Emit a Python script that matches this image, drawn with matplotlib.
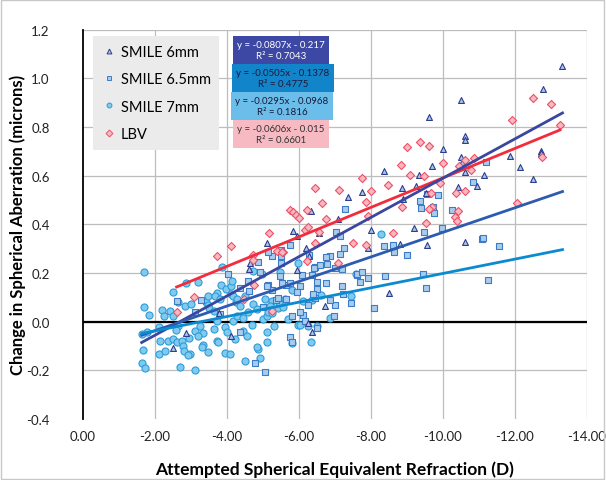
import numpy as np
import matplotlib
matplotlib.use("Agg")
import matplotlib.pyplot as plt
from matplotlib.lines import Line2D
from matplotlib.patches import Rectangle

plt.rcParams['font.family'] = ['Lato', 'DejaVu Sans']

# SMILE 6mm (triangles)
x6 = [-13.31, -12.77, -10.49, -9.62, -10.61, -10.61, -10.01, -10.50, -10.52, -10.61,
      -11.15, -11.86, -12.72, -12.72, -12.14, -12.49, -10.95, -10.41, -9.69, -9.53,
      -9.56, -10.61, -8.36, -9.34, -9.25, -8.87, -7.74, -7.37, -8.90, -6.33,
      -7.09, -5.84, -7.99, -9.19, -6.56, -5.12, -6.19, -6.29, -4.64, -8.50,
      -6.72, -6.26, -6.35, -4.62, -2.86, -2.49, -3.79, -4.10, -5.94, -7.93,
      -8.81, -5.94]
y6 = [1.052, 0.956, 0.911, 0.840, 0.762, 0.748, 0.710, 0.676, 0.655, 0.614,
      0.603, 0.682, 0.703, 0.693, 0.635, 0.587, 0.559, 0.555, 0.641, 0.529,
      0.315, 0.326, 0.618, 0.604, 0.559, 0.548, 0.534, 0.511, 0.504, 0.456,
      0.422, 0.374, 0.378, 0.384, 0.365, 0.323, 0.302, 0.271, 0.241, 0.118,
      0.066, -0.005, -0.041, 0.217, -0.046, -0.109, 0.035, -0.058, 0.351, 0.302,
      0.319, 0.214]

# SMILE 6.5mm (squares)
x65 = [-11.19, -10.84, -9.87, -9.73, -9.75, -10.25, -9.47, -9.96, -11.08, -11.12,
       -11.56, -9.44, -9.53, -11.25, -9.36, -9.38, -9.56, -7.28, -7.03, -7.14,
       -7.25, -6.86, -7.14, -6.75, -6.79, -7.00, -6.44, -6.58, -5.75, -5.49,
       -5.49, -5.24, -5.15, -4.87, -6.08, -6.35, -6.49, -6.49, -6.75, -6.03,
       -5.94, -5.64, -5.52, -5.75, -7.69, -7.93, -7.62, -8.39, -7.00, -7.44,
       -8.08, -6.86, -6.44, -6.12, -6.17, -6.49, -5.75, -5.80, -5.36, -5.01,
       -4.78, -5.06, -6.03, -6.28, -6.43, -7.19, -7.60, -7.75, -8.36, -8.60,
       -8.63, -8.99, -7.19, -6.40, -7.23, -6.24, -5.63, -5.43, -5.81, -6.98,
       -5.15, -5.24, -5.47, -4.59, -4.61, -4.02, -4.36, -3.28, -3.11, -2.60,
       -3.81, -4.36, -4.92, -5.10, -5.50]
y65 = [0.655, 0.575, 0.521, 0.473, 0.446, 0.460, 0.370, 0.385, 0.340, 0.343,
       0.312, 0.196, 0.137, 0.173, 0.497, 0.466, 0.525, 0.463, 0.370, 0.351,
       0.302, 0.271, 0.278, 0.265, 0.237, 0.219, 0.224, 0.233, 0.315, 0.269,
       0.241, 0.269, 0.285, 0.247, 0.192, 0.192, 0.162, 0.134, 0.159, 0.148,
       0.123, 0.151, 0.159, 0.159, 0.162, 0.178, 0.192, 0.189, 0.069, 0.077,
       0.055, 0.090, 0.096, 0.028, 0.004, -0.027, -0.064, -0.085, 0.088, 0.059,
       -0.170, -0.208, 0.039, 0.274, 0.219, 0.217, 0.196, 0.203, 0.312, 0.315,
       0.285, 0.274, 0.146, 0.114, 0.114, 0.069, 0.093, 0.096, 0.022, 0.025,
       0.151, 0.132, 0.187, 0.169, 0.127, 0.196, 0.137, 0.090, 0.041, 0.086,
       0.032, -0.044, 0.203, 0.148, 0.296]

# SMILE 7mm (circles)
x7 = [-1.69, -1.69, -1.84, -1.66, -1.63, -1.72, -1.77, -1.63, -2.19, -2.25,
      -2.12, -2.14, -2.12, -2.28, -2.37, -2.51, -2.60, -2.74, -2.77, -2.81,
      -2.69, -3.11, -2.97, -2.51, -2.86, -3.20, -2.42, -2.51, -2.65, -2.83,
      -2.99, -2.65, -2.58, -3.11, -3.25, -3.34, -3.33, -3.20, -2.95, -3.42,
      -3.48, -3.51, -3.71, -3.83, -3.64, -3.71, -3.64, -3.94, -3.99, -3.71,
      -3.76, -3.94, -4.08, -4.22, -4.16, -4.27, -4.44, -4.45, -4.55, -4.50,
      -4.87, -4.25, -4.36, -4.10, -4.18, -4.50, -4.73, -4.59, -4.83, -3.85,
      -3.96, -4.11, -4.13, -4.27, -3.48, -3.67, -3.81, -4.73, -4.96, -3.31,
      -2.91, -3.46, -4.69, -4.99, -5.10, -5.15, -5.10, -4.83, -4.92, -5.06,
      -5.24, -5.19, -5.43, -5.56, -5.44, -5.61, -5.24, -5.31, -5.69, -5.96,
      -6.03, -6.24, -6.49, -5.80, -6.33, -5.10, -6.86, -5.47, -5.81, -5.96,
      -7.44, -8.28, -6.61, -6.12, -6.35, -7.58]
y7 = [0.206, 0.059, 0.028, -0.115, -0.171, -0.192, -0.041, -0.051, 0.049, 0.025,
      -0.023, -0.078, -0.133, -0.119, -0.078, -0.071, -0.085, -0.078, -0.099, -0.119,
      -0.187, -0.197, -0.133, 0.121, 0.159, 0.164, 0.045, 0.025, 0.080, 0.066,
      0.073, -0.016, -0.034, -0.037, -0.016, -0.046, -0.096, -0.058, -0.068, 0.080,
      0.069, 0.055, 0.118, 0.151, 0.045, 0.004, -0.030, -0.023, -0.044, -0.078,
      -0.085, -0.129, -0.133, -0.071, 0.004, 0.025, 0.014, -0.037, -0.058, -0.160,
      -0.112, 0.082, 0.066, 0.114, 0.107, 0.107, 0.073, 0.039, 0.052, 0.226,
      0.134, 0.148, 0.169, 0.093, 0.107, 0.104, 0.093, 0.210, 0.196, -0.105,
      -0.137, -0.126, -0.014, 0.011, 0.025, 0.039, -0.044, -0.105, -0.150, 0.093,
      0.086, 0.063, 0.055, 0.059, 0.082, 0.093, 0.036, -0.016, 0.011, -0.014,
      -0.014, -0.019, -0.019, -0.088, -0.085, -0.082, 0.014, 0.203, 0.132, 0.241,
      0.104, 0.360, 0.110, 0.086, 0.090, 0.196]

# LBV (diamonds)
xl = [-2.60, -3.08, -3.73, -4.10, -4.73, -4.73, -4.75, -4.46, -6.44, -7.12,
      -7.74, -7.99, -7.86, -6.63, -5.75, -5.84, -5.92, -6.00, -6.21, -6.75,
      -6.17, -6.26, -6.56, -6.44, -7.49, -7.86, -8.62, -7.08, -6.21, -5.17,
      -5.56, -5.25, -8.83, -8.99, -9.36, -9.62, -9.08, -8.48, -8.85, -9.69,
      -9.53, -9.99, -7.93, -12.49, -13.00, -11.91, -13.25, -12.74, -12.05, -9.48,
      -10.61, -10.86, -10.77, -10.45, -9.92, -9.66, -10.61, -10.36, -10.43, -9.62,
      -10.33, -10.38, -5.38, -5.52]
yl = [0.041, 0.103, 0.269, 0.312, 0.274, 0.255, 0.151, 0.093, 0.548, 0.543,
      0.589, 0.538, 0.493, 0.487, 0.460, 0.450, 0.439, 0.427, 0.459, 0.422,
      0.378, 0.388, 0.367, 0.323, 0.323, 0.315, 0.365, 0.241, 0.251, 0.363,
      0.288, 0.044, 0.644, 0.717, 0.737, 0.723, 0.603, 0.562, 0.470, 0.470,
      0.406, 0.652, 0.433, 0.918, 0.894, 0.829, 0.808, 0.678, 0.487, 0.598,
      0.666, 0.672, 0.624, 0.641, 0.570, 0.529, 0.538, 0.528, 0.456, 0.463,
      0.429, 0.413, 0.292, 0.285]

labels = ["SMILE 6mm", "SMILE 6.5mm", "SMILE 7mm", "LBV"]
slopes = [-0.0807, -0.0505, -0.0295, -0.0606]
intercepts = [-0.217, -0.1378, -0.0968, -0.015]
r2 = [0.7043, 0.4775, 0.1816, 0.6601]
fit_start = [-1.63, -1.63, -1.63, -2.60]
fit_end = [-13.32, -13.32, -13.32, -13.25]

markers = ['^', 's', 'o', 'D']
sizes = [18, 24, 26, 17]
faces = ['#A9C8EA', '#A8CCEE', '#7FCAEE', '#F8B8C0']
edges = ['#2E3C8E', '#3C7CC6', '#2E9CD8', '#EE5068']
line_cols = ['#3A469F', '#2C5BAF', '#0C8AD0', '#F22C3C']
box_cols = ['#3D48A4', '#1285CA', '#6BBDEA', '#F7BAC2']
box_txt = ['white', '#1A1A3A', '#1A1A3A', '#333333']

fig = plt.figure(figsize=(6.06, 4.81), dpi=100)
ax = fig.add_axes([83/606, 1 - 420/481, 504/606, (420 - 30.7)/481])

xs = [x6, x65, x7, xl]
ys = [y6, y65, y7, yl]
for i in [2, 1, 0, 3]:
    ax.scatter(xs[i], ys[i], marker=markers[i], s=sizes[i], facecolor=faces[i],
               edgecolor=edges[i], linewidth=0.8, zorder=3)

for i in [3, 0, 1, 2]:
    fx = np.array([fit_start[i], fit_end[i]])
    ax.plot(fx, slopes[i] * fx + intercepts[i], color=line_cols[i], lw=2.0, zorder=4)

ax.set_xlim(0, -14)
ax.set_ylim(-0.4, 1.2)
xt = np.arange(0, -15, -2)
ax.set_xticks(xt)
ax.set_xticklabels([f"{v:.2f}" for v in xt])
yt = np.round(np.arange(-0.4, 1.21, 0.2), 1)
ax.set_yticks(yt)
ax.set_yticklabels([f"{v:.1f}" for v in yt])
ax.tick_params(axis='x', length=0, labelsize=9.5, pad=8, colors='#222222')
ax.tick_params(axis='y', length=0, labelsize=9.5, pad=24, colors='#222222')
for v in xt[1:]:
    ax.axvline(v, color='#BDBDBD', lw=0.9, zorder=0)
for v in yt[1:]:
    ax.axhline(v, color='#BDBDBD', lw=0.9, zorder=0)
ax.axhline(0, color='black', lw=1.6, zorder=2)
for s in ['top', 'right', 'bottom']:
    ax.spines[s].set_visible(False)
ax.spines['left'].set_color('black')
ax.spines['left'].set_linewidth(1.3)

ax.set_xlabel("Attempted Spherical Equivalent Refraction (D)", fontsize=12.5,
              fontweight='bold', labelpad=13)
ax.set_ylabel("Change in Spherical Aberration (microns)", fontsize=12,
              fontweight='bold', labelpad=0)

handles = [Line2D([], [], marker=markers[i], ls='', markersize=3.5,
                  markerfacecolor=faces[i], markeredgecolor=edges[i],
                  markeredgewidth=0.7) for i in range(4)]
leg = ax.legend(handles, labels, loc='upper left',
                bbox_to_anchor=(10/504, (420 - 37)/389.3),
                fontsize=10.5, frameon=True, fancybox=False, handletextpad=0.3,
                labelspacing=0.92, borderpad=0.6, handlelength=1.0, borderaxespad=0)
leg.get_frame().set_facecolor('#EBEBEB')
leg.get_frame().set_edgecolor('none')
leg.get_frame().set_alpha(1)

centers = [(281, 51), (283, 79), (282, 107), (281, 135)]
for i in range(4):
    cx, cy = centers[i]
    fig.text(cx/606, 1 - cy/481,
             f"y = {slopes[i]}x - {abs(intercepts[i])}\nR² = {r2[i]}",
             ha='center', va='center', fontsize=7.0, color=box_txt[i],
             linespacing=1.2,
             bbox=dict(boxstyle='square,pad=0.4', facecolor=box_cols[i],
                       edgecolor='none'), zorder=10)

fig.patches.append(Rectangle((0.002, 0.002), 0.995, 0.995, transform=fig.transFigure,
                             fill=False, edgecolor='#C8C8C8', lw=1.0))

fig.savefig("out.png", dpi=100)
